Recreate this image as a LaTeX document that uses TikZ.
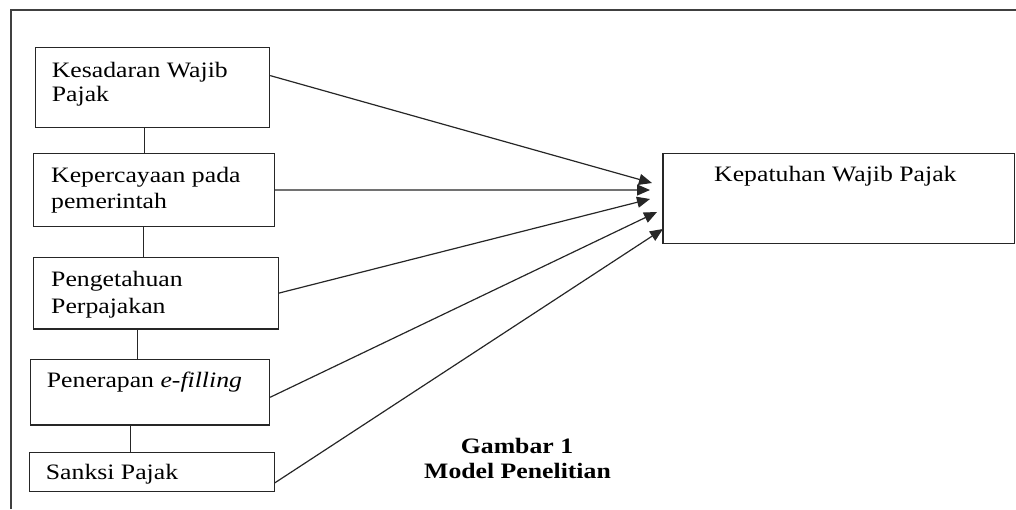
\documentclass[tikz,border=0pt]{standalone}
\usepackage{fontspec}
\setmainfont{Liberation Serif}[FakeStretch=1.17]
\usetikzlibrary{arrows.meta}
\begin{document}
\begin{tikzpicture}[x=1pt,y=-1pt,
  box/.style={draw=black!85, line width=1.2pt, inner sep=0pt, anchor=north west},
  txt/.style={anchor=base west, inner sep=0pt, font=\fontsize{22}{24}\selectfont},
  captxt/.style={anchor=base, inner sep=0pt, font=\fontsize{22}{24}\selectfont\bfseries},
  link/.style={draw=black!85, line width=1.2pt},
  frame/.style={draw=black!75, line width=1.3pt},
  arr/.style={draw=black!85, line width=1.2pt, -{Triangle[length=13pt,width=11pt]}}]
\useasboundingbox (0,0) rectangle (1016,509);
% frame
\coordinate (fa) at (11,509);
\coordinate (fb) at (11,10);
\coordinate (fc) at (1016,10);
\draw[frame] (fa) -- (fb) -- (fc);
% boxes
\node[box, minimum width=234pt, minimum height=80pt] (b1) at (35,47) {};
\node[box, minimum width=240.7pt, minimum height=73.3pt] (b2) at (33,152.7) {};
\node[box, minimum width=244.7pt, minimum height=71.6pt] (b3) at (33,256.7) {};
\node[box, minimum width=239pt, minimum height=65.3pt] (b4) at (30,359) {};
\node[box, minimum width=244.7pt, minimum height=39pt] (b5) at (29,451.7) {};
\node[box, minimum width=351.4pt, minimum height=89.7pt] (tgt) at (662.3,153) {};
% texts
\node[txt] (t1a) at (51.7,77.3) {Kesadaran Wajib};
\node[txt] (t1b) at (51.7,101.7) {Pajak};
\node[txt] (t2a) at (51,182.5) {Kepercayaan pada};
\node[txt] (t2b) at (51,208.5) {pemerintah};
\node[txt] (t3a) at (51,286) {Pengetahuan};
\node[txt] (t3b) at (51,313) {Perpajakan};
\node[txt] (t4) at (46.7,387.7) {Penerapan \textit{e-f{}illing}};
\node[txt] (t5) at (45.7,479) {Sanksi Pajak};
\node[txt] (tt) at (714,181.7) {Kepatuhan Wajib Pajak};
\node[captxt] (g1) at (517,453) {Gambar 1};
\node[captxt] (g2) at (517.5,478) {Model Penelitian};
% vertical links
\coordinate (x12) at (144.7,0);
\coordinate (x23) at (143.3,0);
\coordinate (x34) at (137.7,0);
\coordinate (x45) at (130.7,0);
\draw[link] (b1.south -| x12) -- (b2.north -| x12);
\draw[link] (b2.south -| x23) -- (b3.north -| x23);
\draw[link] (b3.south -| x34) -- (b4.north -| x34);
\draw[link] (b4.south -| x45) -- (b5.north -| x45);
% arrows
\coordinate (e1) at (652,183);
\coordinate (e2) at (650,190);
\coordinate (e3) at (650,199);
\coordinate (e4) at (657,212);
\coordinate (e5) at (663,229);
\draw[arr] ([yshift=12pt]b1.east) -- (e1);
\draw[arr] (b2.east) -- (e2);
\draw[arr] (b3.east) -- (e3);
\draw[arr] ([yshift=-5pt]b4.east) -- (e4);
\draw[arr] ([yshift=-11pt]b5.east) -- (e5);
\end{tikzpicture}
\end{document}
